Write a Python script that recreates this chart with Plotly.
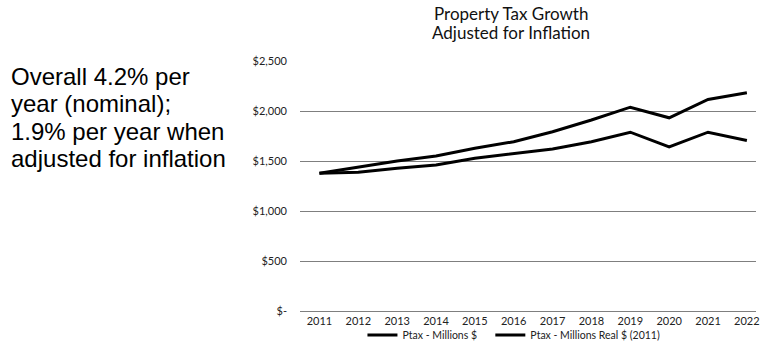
import plotly.graph_objects as go

# Property tax levy, millions of dollars
years = ["2011", "2012", "2013", "2014", "2015", "2016", "2017", "2018", "2019", "2020", "2021", "2022"]
ptax_nominal = [1378, 1437, 1500, 1550, 1627, 1693, 1793, 1910, 2038, 1932, 2115, 2182]
ptax_real_2011 = [1378, 1387, 1427, 1460, 1527, 1570, 1620, 1693, 1788, 1642, 1788, 1705]

y_ticks = [0, 500, 1000, 1500, 2000, 2500]
y_tick_text = ["$-", "$500", "$1,000", "$1,500", "$2,000", "$2,500"]

title_lines = ["Property Tax Growth", "Adjusted for Inflation"]
note_lines = [
    "Overall 4.2% per",
    "year (nominal);",
    "1.9% per year when",
    "adjusted for inflation",
]

W, H = 760, 362
L, T, B = 300, 61, 51
plot_w = W - L
plot_h = H - T - B
step = 39.2  # px per category


def px_x(px):
    return (px - L) / plot_w


def px_y(py):
    return (H - B - py) / plot_h


chart_font = "Lato, 'Open Sans', sans-serif"
grid_color = "#7f7f7f"

fig = go.Figure()
fig.add_trace(go.Scatter(x=years, y=ptax_nominal, mode="lines", name="Ptax - Millions $",
                         line=dict(color="black", width=3), legend="legend"))
fig.add_trace(go.Scatter(x=years, y=ptax_real_2011, mode="lines", name="Ptax - Millions Real $ (2011)",
                         line=dict(color="black", width=3), legend="legend2"))

annotations = []
# side note, one annotation per line for tight line spacing
for line, cy in zip(note_lines, [76, 103, 131, 158]):
    annotations.append(dict(
        text=line, xref="paper", yref="paper",
        x=px_x(6), y=px_y(cy),
        xanchor="left", yanchor="middle", showarrow=False,
        font=dict(family="Liberation Sans, Arial, sans-serif", size=24, color="black"),
    ))
# two-line chart title
for line, cy in zip(title_lines, [13, 33]):
    annotations.append(dict(
        text=line, xref="paper", yref="paper",
        x=px_x(513), y=px_y(cy),
        xanchor="center", yanchor="middle", showarrow=False,
        font=dict(family=chart_font, size=17, color="#111111"),
    ))

legend_style = dict(orientation="h", xanchor="left", y=px_y(335), yanchor="middle",
                    font=dict(size=10.5, family=chart_font), bgcolor="rgba(0,0,0,0)",
                    itemwidth=30)

fig.update_layout(
    width=W, height=H,
    margin=dict(l=L, r=0, t=T, b=B),
    paper_bgcolor="white", plot_bgcolor="white",
    font=dict(family=chart_font, color="#222222", size=11),
    showlegend=True,
    legend=dict(x=px_x(363), **legend_style),
    legend2=dict(x=px_x(492), **legend_style),
    annotations=annotations,
)

fig.update_xaxes(type="category", range=[-0.5, -0.5 + plot_w / step],
                 showgrid=False, zeroline=False, ticks="",
                 showline=True, linecolor=grid_color, linewidth=1,
                 tickfont=dict(size=11, family=chart_font), ticklabelstandoff=0)
fig.update_yaxes(range=[0, 2500], tickvals=y_ticks, ticktext=y_tick_text,
                 showgrid=True, gridcolor=grid_color, gridwidth=1,
                 zeroline=False, showline=False, ticks="",
                 tickfont=dict(size=11, family=chart_font), ticklabelstandoff=12)

fig.write_html("out.html")
